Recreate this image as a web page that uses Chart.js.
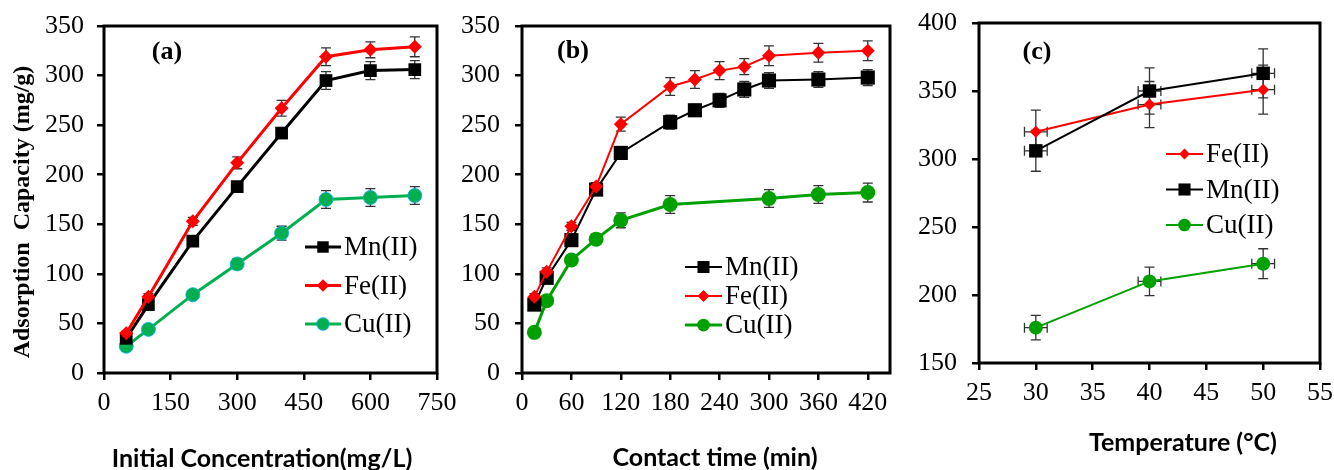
<!DOCTYPE html>
<html>
<head>
<meta charset="utf-8">
<script src="https://cdn.jsdelivr.net/npm/chart.js@4.4.0/dist/chart.umd.min.js"></script>
<style>
  html, body { margin: 0; padding: 0; background: #fff; }
  #wrap { position: relative; width: 1334px; height: 470px; overflow: hidden; }
  canvas { position: absolute; top: 0; }
</style>
</head>
<body>
<div id="wrap">
  <canvas id="chartA" width="460" height="470" style="left:0"></canvas>
  <canvas id="chartB" width="448" height="470" style="left:452px"></canvas>
  <canvas id="chartC" width="434" height="470" style="left:900px"></canvas>
</div>
<script>
//--------------------------------------------- Data ----------------------------------------------------------
// (a) initial concentration
var concA = [50, 100, 200, 300, 400, 500, 600, 700];
var mnA = [35, 69, 133, 188, 242, 295, 305, 306];
var feA = [40, 77, 153, 212, 267, 319, 326, 329];
var cuA = [27, 44, 79, 110, 141, 175, 177, 179];
var mnErrA = [3, 3, 4, 5, 5, 9, 9, 9];
var feErrA = [2, 3, 4, 6, 8, 9, 8, 10];
var cuErrA = [2, 3, 3, 5, 7, 9, 9, 9];

// (b) contact time
var timeB = [15, 30, 60, 90, 120, 180, 210, 240, 270, 300, 360, 420];
var timeCuB = [15, 30, 60, 90, 120, 180, 300, 360, 420];
var mnB = [69, 96, 134, 185, 222, 253, 265, 275, 286, 295, 296, 298];
var feB = [77, 102, 148, 188, 251, 289, 296, 305, 309, 320, 323, 325];
var cuB = [41, 73, 114, 135, 154, 170, 176, 180, 182];
var mnErrB = [4, 4, 4, 4, 5, 7, 6, 7, 8, 8, 8, 8];
var feErrB = [3, 4, 4, 4, 7, 9, 9, 9, 8, 10, 9.5, 10];
var cuErrB = [2, 3, 4, 5, 7.5, 9, 9, 9, 9.5];

// (c) temperature
var tempC = [30, 40, 50];
var feC = [320, 340, 351];
var mnC = [306, 350, 363];
var cuC = [176, 210, 223];
var feErrC = [16, 17, 18];
var mnErrC = [15, 17, 18];
var cuErrC = [9, 10.5, 11];
var tempErrC = [1, 1, 1];

// axis ranges and tick steps [min, max, step]
var ticksA = { x: [0, 750, 150], y: [0, 350, 50] };
var ticksB = { x: [0, 447, 60], y: [0, 350, 50] };
var ticksC = { x: [25, 55, 5], y: [150, 400, 50] };

function pts(xs, ys) {
	return xs.map(function(x, i) { return { x: x, y: ys[i] }; });
}

//--------------------------------------------- Plugins ----------------------------------------------------------
var errorBars = {
	id: 'errorBars',
	beforeDatasetsDraw: function(chart, args, opts) {
		var ctx = chart.ctx, xs = chart.scales.x, ys = chart.scales.y;
		ctx.save();
		ctx.strokeStyle = opts.color;
		ctx.lineWidth = opts.width;
		chart.data.datasets.forEach(function(ds, di) {
			var meta = chart.getDatasetMeta(di);
			ds.data.forEach(function(p, i) {
				var el = meta.data[i];
				ctx.beginPath();
				if (ds.errY) {
					var t = ys.getPixelForValue(p.y + ds.errY[i]);
					var b = ys.getPixelForValue(p.y - ds.errY[i]);
					ctx.moveTo(el.x, t); ctx.lineTo(el.x, b);
					ctx.moveTo(el.x - opts.cap, t); ctx.lineTo(el.x + opts.cap, t);
					ctx.moveTo(el.x - opts.cap, b); ctx.lineTo(el.x + opts.cap, b);
				}
				if (ds.errX) {
					var l = xs.getPixelForValue(p.x - ds.errX[i]);
					var r = xs.getPixelForValue(p.x + ds.errX[i]);
					ctx.moveTo(l, el.y); ctx.lineTo(r, el.y);
					ctx.moveTo(l, el.y - opts.cap); ctx.lineTo(l, el.y + opts.cap);
					ctx.moveTo(r, el.y - opts.cap); ctx.lineTo(r, el.y + opts.cap);
				}
				ctx.stroke();
			});
		});
		ctx.restore();
	}
};

var frame = {
	id: 'frame',
	afterDraw: function(chart, args, opts) {
		var a = chart.chartArea, ctx = chart.ctx;
		ctx.save();
		ctx.strokeStyle = '#000';
		ctx.lineWidth = opts.width;
		ctx.strokeRect(a.left, a.top, a.right - a.left, a.bottom - a.top);
		ctx.restore();
	}
};

var inLegend = {
	id: 'inLegend',
	afterDraw: function(chart, args, opts) {
		var ctx = chart.ctx;
		ctx.save();
		chart.data.datasets.forEach(function(ds, i) {
			var y = opts.y + i * opts.gap;
			ctx.strokeStyle = ds.borderColor;
			ctx.lineWidth = ds.borderWidth;
			ctx.beginPath();
			ctx.moveTo(opts.x, y);
			ctx.lineTo(opts.x + opts.len, y);
			ctx.stroke();
			ctx.fillStyle = ds.pointBackgroundColor;
			ctx.strokeStyle = ds.pointBorderColor;
			ctx.lineWidth = ds.pointBorderWidth;
			Chart.helpers.drawPoint(ctx, {
				pointStyle: ds.pointStyle,
				radius: ds.pointRadius * opts.scale,
				rotation: 0,
				borderWidth: ds.pointBorderWidth
			}, opts.x + opts.len / 2, y);
			ctx.fillStyle = '#000';
			ctx.font = opts.font;
			ctx.textBaseline = 'middle';
			ctx.textAlign = 'left';
			ctx.fillText(ds.label, opts.x + opts.len + 3, y + 1);
		});
		ctx.restore();
	}
};

var captions = {
	id: 'captions',
	afterDraw: function(chart, args, opts) {
		var ctx = chart.ctx;
		opts.items.forEach(function(c) {
			ctx.save();
			ctx.translate(c.x, c.y);
			if (c.rot) ctx.rotate(c.rot);
			ctx.font = c.font;
			ctx.fillStyle = '#000';
			ctx.textAlign = 'center';
			ctx.textBaseline = 'middle';
			ctx.fillText(c.text, 0, 0);
			ctx.restore();
		});
	}
};

Chart.register(errorBars, frame, inLegend, captions);

//--------------------------------------------- Helpers ----------------------------------------------------------
var serif = '"Liberation Serif", "Times New Roman", serif';
var tickFont = { family: serif, size: 26 };

function axis(t, fitSize, isX, pad) {
	return {
		type: 'linear',
		min: t[0], max: t[1],
		border: { display: false },
		grid: { drawOnChartArea: false, drawTicks: true, tickLength: 7, color: '#000', lineWidth: 2.5 },
		ticks: { stepSize: t[2], includeBounds: false, autoSkip: false, maxRotation: 0, font: tickFont, color: '#000', padding: pad },
		afterFit: function(s) {
			// the layout padding alone decides where the plot box sits
			s.paddingLeft = s.paddingRight = s.paddingTop = s.paddingBottom = 0;
			if (isX) s.height = fitSize; else s.width = fitSize;
		}
	};
}

function series(label, data, color, style, radius, width, err, extra) {
	var ds = {
		label: label,
		data: data,
		borderColor: color,
		borderWidth: width,
		pointStyle: style,
		pointRadius: radius,
		pointHoverRadius: radius,
		pointBackgroundColor: color,
		pointBorderColor: color,
		pointBorderWidth: 0,
		tension: 0,
		errY: err
	};
	for (var k in extra) ds[k] = extra[k];
	return ds;
}

function baseOptions(pad, xAxis, yAxis, legend, caps) {
	return {
		responsive: false,
		animation: false,
		layout: { padding: pad },
		scales: { x: xAxis, y: yAxis },
		plugins: {
			legend: { display: false },
			tooltip: { enabled: false },
			errorBars: { color: '#333', width: 1.3, cap: 5 },
			frame: { width: 3 },
			inLegend: legend,
			captions: { items: caps }
		}
	};
}

var titleFont = 'bold 25px Lato';
var serifBold = 'bold 26px ' + serif;
var legendFont = '27px ' + serif;

//--------------------------------------------- Chart (a) ----------------------------------------------------------
new Chart(document.getElementById('chartA'), {
	type: 'line',
	data: {
		datasets: [
			series('Mn(II)', pts(concA, mnA), '#000000', 'rect', 9, 3, mnErrA, { order: 1 }),
			series('Fe(II)', pts(concA, feA), '#ff0000', 'rectRot', 7, 3, feErrA, { order: 0 }),
			series('Cu(II)', pts(concA, cuA), '#00b050', 'circle', 7, 3, cuErrA, { order: 2, pointBorderColor: '#00b0f0', pointBorderWidth: 0.8 })
		]
	},
	options: baseOptions({ top: 26, right: 23, left: 0, bottom: 0 },
		axis(ticksA.x, 97, true, 8), axis(ticksA.y, 104, false, 13),
		{ x: 305, y: 247, gap: 38.5, len: 36, scale: 0.9, font: legendFont },
		[
			{ text: '(a)', x: 167, y: 52, font: serifBold },
			{ text: 'Adsorption  Capacity (mg/g)', x: 23, y: 212, rot: -Math.PI / 2, font: 'bold 24px ' + serif },
			{ text: 'Initial Concentration(mg/L)', x: 262, y: 459, font: titleFont }
		])
});

//--------------------------------------------- Chart (b) ----------------------------------------------------------
new Chart(document.getElementById('chartB'), {
	type: 'line',
	data: {
		datasets: [
			series('Mn(II)', pts(timeB, mnB), '#000000', 'rect', 10, 2, mnErrB, { order: 1 }),
			series('Fe(II)', pts(timeB, feB), '#ff0000', 'rectRot', 7, 2, feErrB, { order: 0 }),
			series('Cu(II)', pts(timeCuB, cuB), '#00a000', 'circle', 7.5, 3, cuErrB, { order: 2 })
		]
	},
	options: baseOptions({ top: 26, right: 5, left: 0, bottom: 0 },
		axis(ticksB.x, 97, true, 8), axis(ticksB.y, 70, false, 15),
		{ x: 233, y: 267, gap: 29, len: 37, scale: 0.85, font: legendFont },
		[
			{ text: '(b)', x: 121, y: 51, font: serifBold },
			{ text: 'Contact time (min)', x: 263, y: 458, font: titleFont }
		])
});

//--------------------------------------------- Chart (c) ----------------------------------------------------------
new Chart(document.getElementById('chartC'), {
	type: 'line',
	data: {
		datasets: [
			series('Fe(II)', pts(tempC, feC), '#ff0000', 'rectRot', 6, 2, feErrC, { order: 1, errX: tempErrC }),
			series('Mn(II)', pts(tempC, mnC), '#000000', 'rect', 9.5, 2, mnErrC, { order: 0, errX: tempErrC }),
			series('Cu(II)', pts(tempC, cuC), '#00a000', 'circle', 7, 2, cuErrC, { order: 2, errX: tempErrC })
		]
	},
	options: baseOptions({ top: 23, right: 14, left: 0, bottom: 0 },
		axis(ticksC.x, 107, true, 8), axis(ticksC.y, 79, false, 15),
		{ x: 266, y: 154, gap: 35.5, len: 37, scale: 0.9, font: legendFont },
		[
			{ text: '(c)', x: 137, y: 52, font: serifBold },
			{ text: 'Temperature (°C)', x: 283, y: 443, font: titleFont }
		])
});
</script>
</body>
</html>
